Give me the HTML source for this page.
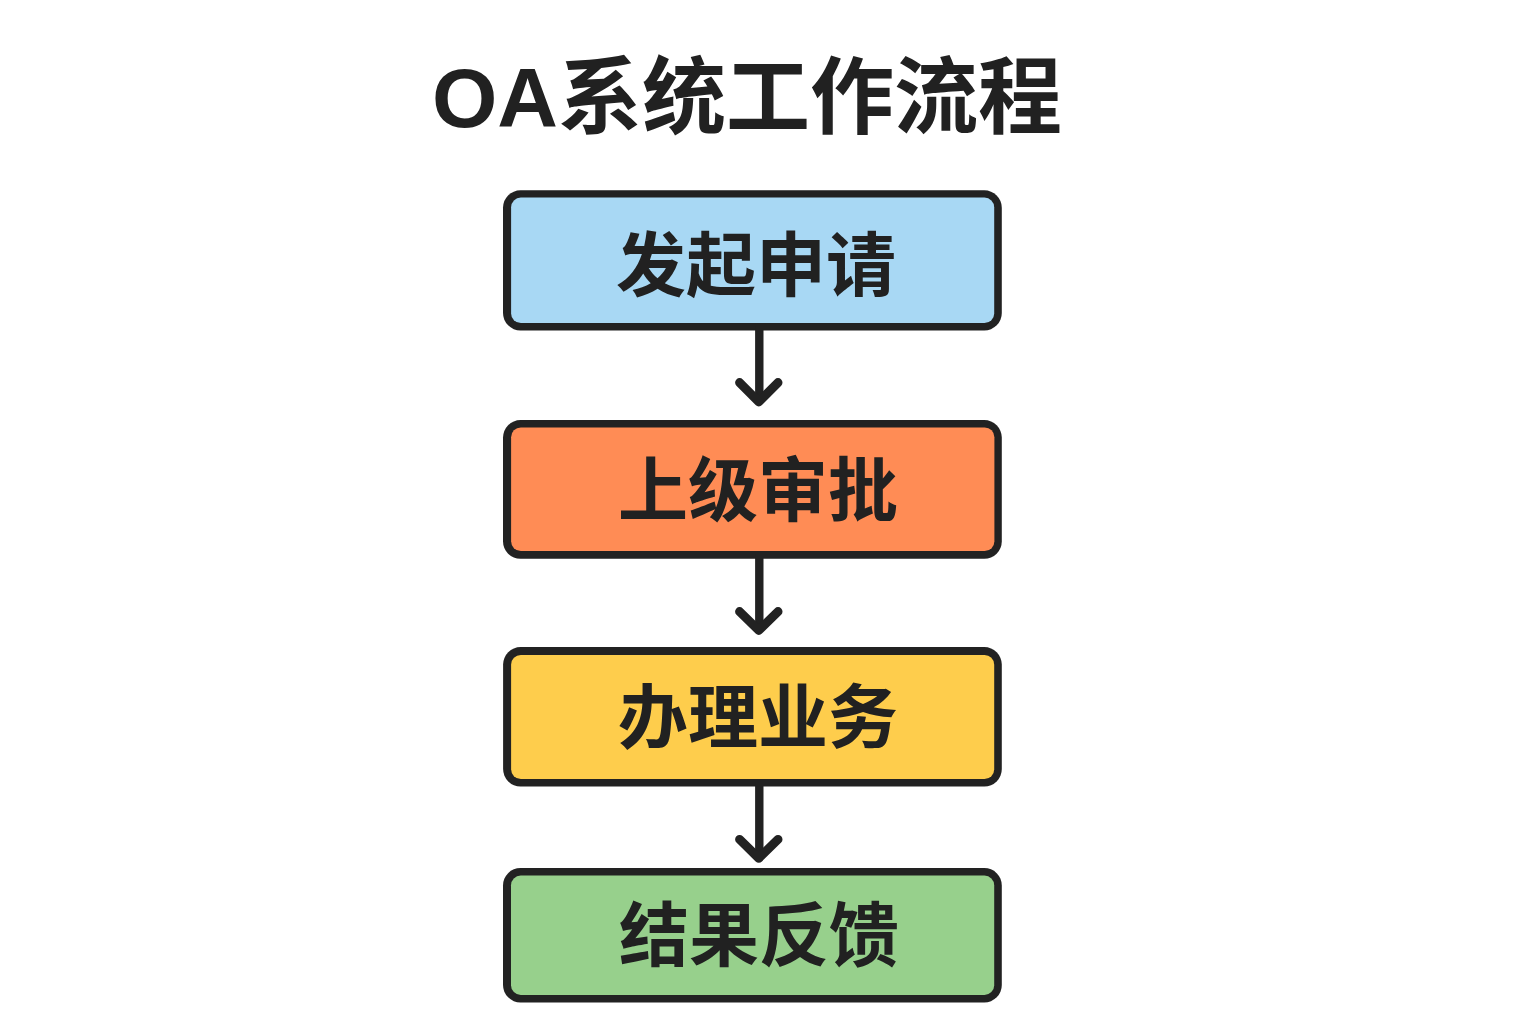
<!DOCTYPE html>
<html lang="zh-CN">
<head>
<meta charset="utf-8">
<title>OA系统工作流程</title>
<style>
html,body{margin:0;padding:0;background:#ffffff;}
body{width:1536px;height:1024px;position:relative;overflow:hidden;font-family:"Liberation Sans","Noto Sans CJK SC",sans-serif;}
.flow{position:absolute;left:0;top:0;width:1536px;height:1024px;background:#ffffff;margin:0;padding:0;list-style:none;}
.flow svg{position:absolute;display:block;overflow:visible;}
.flow svg text{font-family:"Liberation Sans","Noto Sans CJK SC",sans-serif;font-weight:bold;fill:#212121;}
.step,.arrow,.title{margin:0;padding:0;}
</style>
</head>
<body>
<main class="flow">
<header class="title">
<svg role="heading" aria-level="1" style="left:429px;top:51px" width="635" height="88" viewBox="429 51 635 88">
<text x="747" y="127" font-size="84" text-anchor="middle">OA系统工作流程</text>
</svg>
</header>
<section class="step s1">
<svg style="left:501px;top:188px" width="503" height="145" viewBox="501 188 503 145">
<rect x="503" y="190.3" width="498.8" height="140.2" rx="17.5" ry="17.5" fill="#222222"/>
<rect x="511.1" y="197.6" width="483.1" height="125.5" rx="9.7" ry="9.7" fill="#A8D8F4"/>
<text x="756" y="291" font-size="70" text-anchor="middle">发起申请</text>
</svg>
</section>
<div class="arrow a1">
<svg aria-hidden="true" focusable="false" style="left:729px;top:326px" width="61" height="84" viewBox="729 326 61 84">
<path d="M759.3 326V401.9" fill="none" stroke="#222222" stroke-width="8.4" stroke-linecap="butt"/>
<path d="M739.6 382.6L758.8 401.9L778 382.6" fill="none" stroke="#222222" stroke-width="9" stroke-linecap="round" stroke-linejoin="round"/>
</svg>
</div>
<section class="step s2">
<svg style="left:501px;top:418px" width="503" height="143" viewBox="501 418 503 143">
<rect x="503" y="420.1" width="498.8" height="138.7" rx="17.5" ry="17.5" fill="#222222"/>
<rect x="511.1" y="427.5" width="483.3" height="123.5" rx="9.7" ry="9.7" fill="#FF8C55"/>
<text x="758" y="516" font-size="70" text-anchor="middle">上级审批</text>
</svg>
</section>
<div class="arrow a2">
<svg aria-hidden="true" focusable="false" style="left:729px;top:554px" width="61" height="85" viewBox="729 554 61 85">
<path d="M759.3 554V630.4" fill="none" stroke="#222222" stroke-width="8.4" stroke-linecap="butt"/>
<path d="M739.6 611.6L758.8 630.4L778 611.6" fill="none" stroke="#222222" stroke-width="9" stroke-linecap="round" stroke-linejoin="round"/>
</svg>
</div>
<section class="step s3">
<svg style="left:501px;top:645px" width="503" height="144" viewBox="501 645 503 144">
<rect x="503.1" y="647.1" width="498.7" height="139.5" rx="17.5" ry="17.5" fill="#222222"/>
<rect x="511.1" y="655" width="483.1" height="124" rx="9.7" ry="9.7" fill="#FECD4C"/>
<text x="758" y="743" font-size="70" text-anchor="middle">办理业务</text>
</svg>
</section>
<div class="arrow a3">
<svg aria-hidden="true" focusable="false" style="left:729px;top:782px" width="61" height="85" viewBox="729 782 61 85">
<path d="M759.3 782V858.2" fill="none" stroke="#222222" stroke-width="8.4" stroke-linecap="butt"/>
<path d="M739.6 839.4L758.8 858.2L778 839.4" fill="none" stroke="#222222" stroke-width="9" stroke-linecap="round" stroke-linejoin="round"/>
</svg>
</div>
<section class="step s4">
<svg style="left:501px;top:866px" width="503" height="139" viewBox="501 866 503 139">
<rect x="503" y="868" width="498.8" height="134.5" rx="17.5" ry="17.5" fill="#222222"/>
<rect x="511" y="875.6" width="483.2" height="119.3" rx="9.7" ry="9.7" fill="#97D08C"/>
<text x="759" y="961" font-size="70" text-anchor="middle">结果反馈</text>
</svg>
</section>
</main>
</body>
</html>
